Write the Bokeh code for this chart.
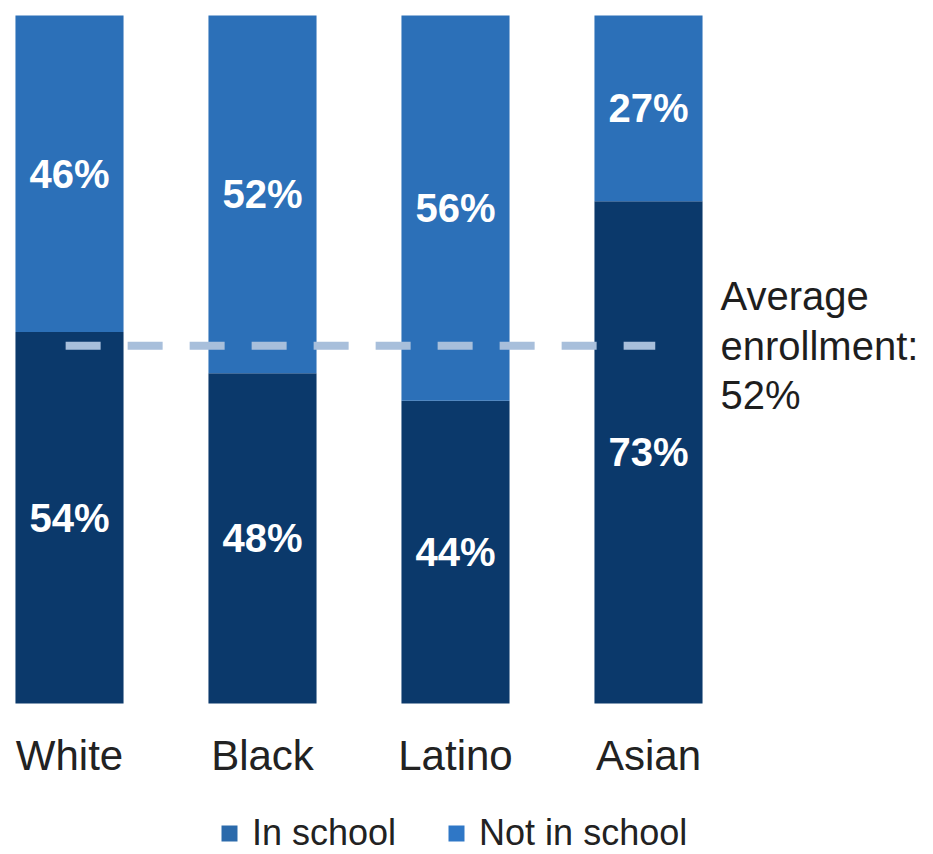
from bokeh.plotting import figure
from bokeh.models import Range1d, FixedTicker, Legend, LegendItem, ColumnDataSource
from bokeh.layouts import column
from bokeh.core.properties import value
from bokeh.embed import file_html
from bokeh.resources import INLINE

groups = ["White", "Black", "Latino", "Asian"]
in_school = [54, 48, 44, 73]
not_in_school = [46, 52, 56, 27]
average = 52
series = ["In school", "Not in school"]

DARK = "#0b396b"
LIGHT = "#2c70b8"
FONT = "Liberation Sans"

xs = list(range(len(groups)))
tops = [a + b for a, b in zip(in_school, not_in_school)]
src = ColumnDataSource(dict(
    x=xs,
    ins=in_school,
    nots=not_in_school,
    top=tops,
    in_mid=[v / 2 for v in in_school],
    not_mid=[a + b / 2 for a, b in zip(in_school, not_in_school)],
    in_lbl=[f"{v}%" for v in in_school],
    not_lbl=[f"{v}%" for v in not_in_school],
))

p = figure(width=933, height=785, output_backend="svg", toolbar_location=None,
           x_range=Range1d(-0.3575, 4.4767), y_range=Range1d(-3.198, 102.18),
           y_axis_location=None, min_border_left=0, min_border_right=0,
           min_border_top=0, min_border_bottom=60)
p.outline_line_color = None
p.xgrid.visible = False
p.ygrid.visible = False
p.background_fill_color = "white"
p.border_fill_color = "white"

r_in = p.vbar(x="x", width=0.56, bottom=0, top="ins", source=src,
              fill_color=DARK, line_color=None)
r_not = p.vbar(x="x", width=0.56, bottom="ins", top="top", source=src,
               fill_color=LIGHT, line_color=None)

p.text(x="x", y="in_mid", text="in_lbl", source=src, text_color="white",
       text_font=value(FONT), text_font_style="bold", text_font_size="40px",
       text_align="center", text_baseline="middle")
p.text(x="x", y="not_mid", text="not_lbl", source=src, text_color="white",
       text_font=value(FONT), text_font_style="bold", text_font_size="40px",
       text_align="center", text_baseline="middle")

# average reference line
p.line(x=[xs[0] - 0.02, xs[-1] + 0.035], y=[average, average], line_color="#a8bfdb",
       line_width=8, line_dash="35 27", line_cap="butt")
p.text(x=[xs[-1] + 0.373], y=[average], text=[f"Average\nenrollment:\n{average}%"],
       text_color="#1e1e1e", text_font=value(FONT), text_font_size="40px",
       text_align="left", text_baseline="middle", text_line_height=1.13)

ax = p.xaxis[0]
ax.ticker = FixedTicker(ticks=xs)
ax.major_label_overrides = {i: g for i, g in zip(xs, groups)}
ax.axis_line_color = None
ax.major_tick_line_color = None
ax.minor_tick_line_color = None
ax.major_tick_out = 0
ax.major_tick_in = 0
ax.major_label_standoff = 6
ax.major_label_text_font = FONT
ax.major_label_text_font_size = "42px"
ax.major_label_text_color = "#222222"

# legend strip
p2 = figure(width=933, height=69, output_backend="svg", toolbar_location=None,
            x_range=Range1d(-0.3575, 4.4767), y_range=Range1d(0, 1),
            x_axis_location=None, y_axis_location=None,
            min_border_left=0, min_border_right=0, min_border_top=0, min_border_bottom=0)
p2.outline_line_color = None
p2.xgrid.visible = False
p2.ygrid.visible = False
d1 = p2.vbar(x="x", width=0, bottom=0, top=0, source=src,
             fill_color="#2b6aab", line_color=None)
d2 = p2.vbar(x="x", width=0, bottom=0, top=0, source=src,
             fill_color="#2f77c6", line_color=None)
legend = Legend(items=[LegendItem(label=series[0], renderers=[d1]),
                       LegendItem(label=series[1], renderers=[d2])],
                orientation="horizontal", location=(219, 0),
                glyph_width=20, glyph_height=20, label_standoff=13, spacing=50,
                padding=0, margin=0, border_line_color=None,
                background_fill_alpha=0,
                label_text_font=FONT, label_text_font_size="36px",
                label_text_color="#222222")
p2.add_layout(legend)

layout = column(p, p2, spacing=0)
open("out.html", "w").write(file_html(layout, INLINE))
